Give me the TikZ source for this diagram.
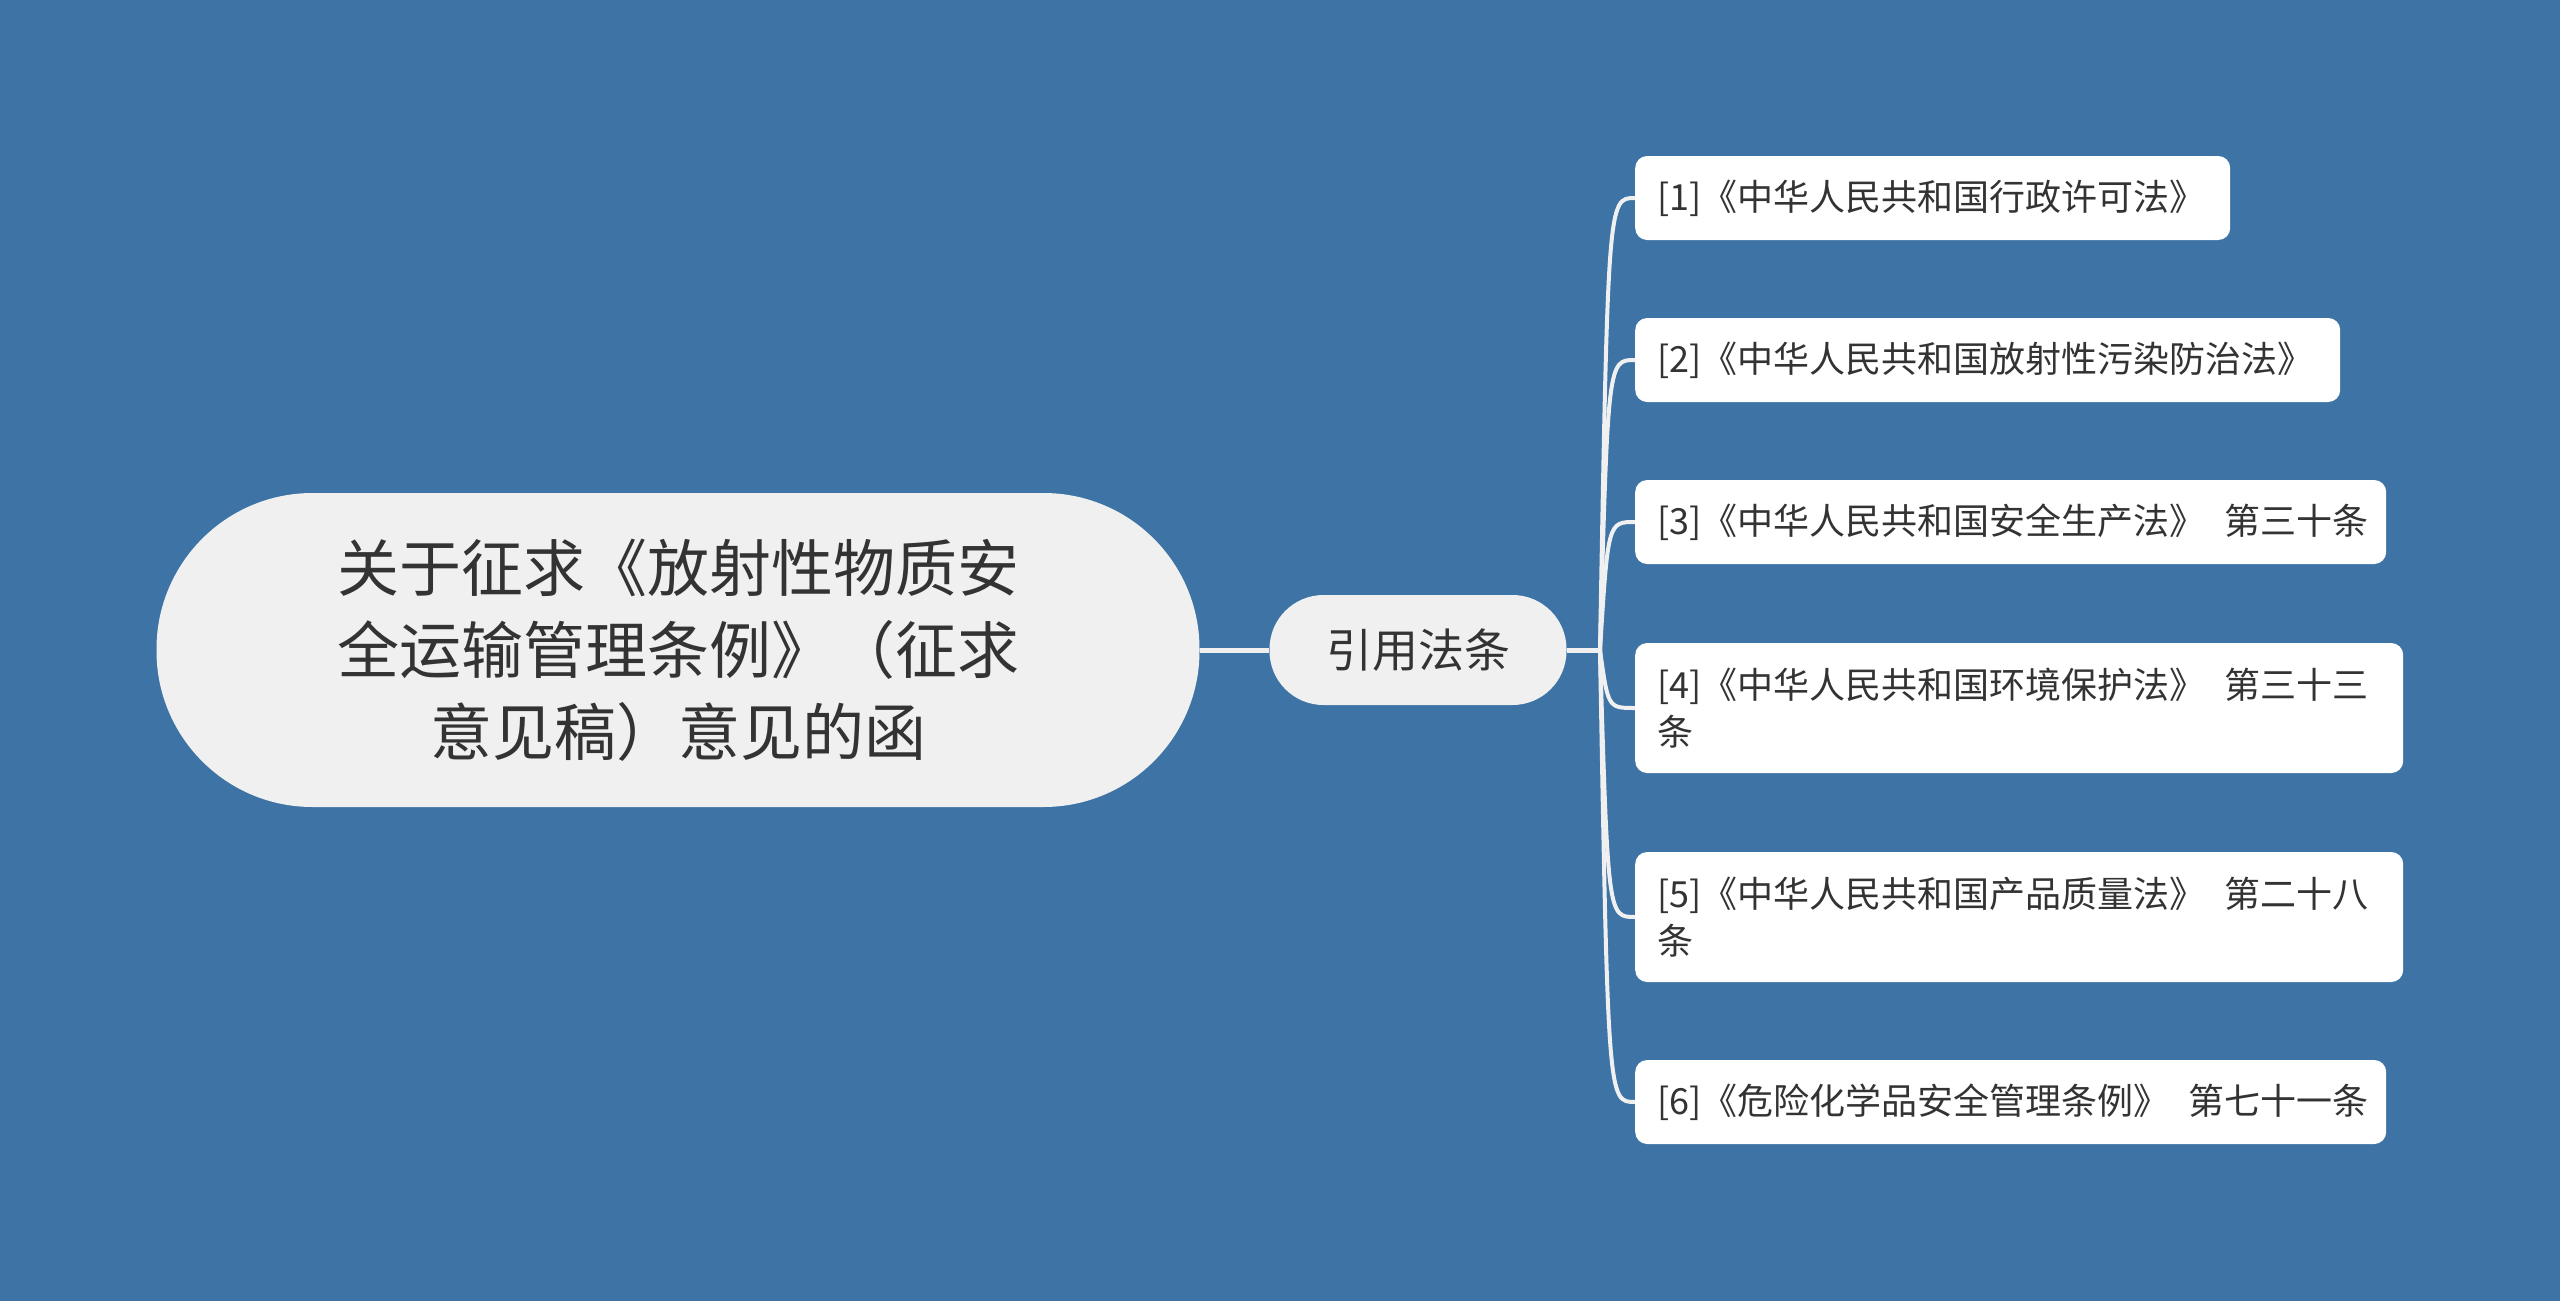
\documentclass[tikz,border=0pt]{standalone}
\usepackage{fontspec}
\setmainfont{Noto Sans CJK SC}
\definecolor{bg}{HTML}{3D73A5}
\definecolor{nodefill}{HTML}{F0F0F0}
\definecolor{leaffill}{HTML}{FFFFFF}
\definecolor{txt}{HTML}{333333}
\definecolor{conncol}{HTML}{F0F0F0}
\begin{document}
\begin{tikzpicture}[x=1pt,y=-1pt,
  mainbox/.style={draw=none, fill=nodefill, rounded corners=156pt, minimum width=1043pt, minimum height=314pt, align=center, text=txt, inner sep=0pt, font=\fontsize{62pt}{82pt}\selectfont},
  midbox/.style={draw=none, fill=nodefill, rounded corners=54pt, minimum width=297pt, minimum height=110pt, align=center, text=txt, inner sep=0pt, font=\fontsize{46pt}{56pt}\selectfont},
  leafbox/.style={draw=none, fill=leaffill, rounded corners=12pt, anchor=west, align=left, text=txt, inner xsep=22pt, inner ysep=0pt, minimum height=84pt, font=\fontsize{36pt}{47pt}\selectfont},
  mainconn/.style={draw=conncol, line width=5pt},
  leafconn/.style={draw=conncol, line width=4pt}
]
\path[fill=bg] (0,0) rectangle (2560,1301);

\node[mainbox] (main) at (678,650) {关于征求《放射性物质安\\全运输管理条例》（征求\\意见稿）意见的函};
\node[midbox] (mid) at (1418,650) {引用法条};
\coordinate (trunk) at (1600,650);

\node[leafbox, text width=551pt] (l1) at (1635,198) {[1]《中华人民共和国行政许可法》};
\node[leafbox, text width=661pt] (l2) at (1635,360) {[2]《中华人民共和国放射性污染防治法》};
\node[leafbox, text width=707pt] (l3) at (1635,522) {\mbox{[3]《中华人民共和国安全生产法》 \kern7pt 第三十条}};
\node[leafbox, text width=724pt, minimum height=130pt] (l4) at (1635,708) {\mbox{[4]《中华人民共和国环境保护法》 \kern7pt 第三十三}\\条};
\node[leafbox, text width=724pt, minimum height=130pt] (l5) at (1635,917) {\mbox{[5]《中华人民共和国产品质量法》 \kern7pt 第二十八}\\条};
\node[leafbox, text width=707pt] (l6) at (1635,1102) {\mbox{[6]《危险化学品安全管理条例》 \kern7pt 第七十一条}};

\draw[mainconn] (main.east) -- (mid.west);
\draw[mainconn] (mid.east) -- (trunk);
\foreach \n in {l1,l2,l3,l4,l5,l6}{
  \draw[leafconn] (trunk) .. controls ([xshift=8pt]trunk |- \n.west) .. (\n.west);
}
\end{tikzpicture}
\end{document}
